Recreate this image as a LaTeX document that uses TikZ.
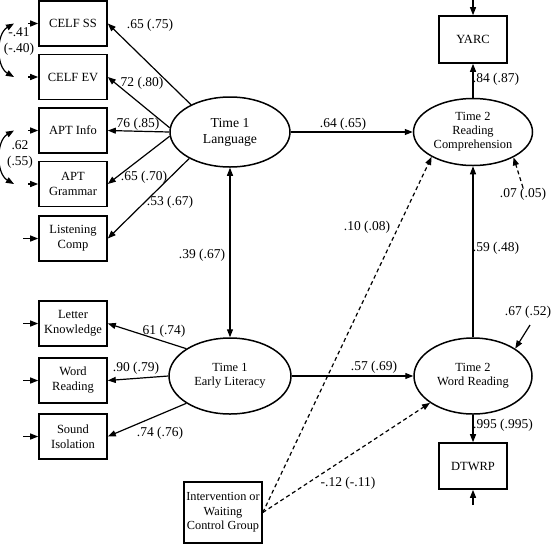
\documentclass[tikz,border=0pt]{standalone}
\usepackage{fontspec}
\setmainfont{Liberation Serif}
\usetikzlibrary{shapes.geometric,arrows.meta}

\begin{document}
\begin{tikzpicture}[x=1pt, y=-1pt, >={Triangle[length=8pt,width=6pt]},
  box/.style={draw, line width=1.6pt, minimum width=68pt, minimum height=45pt, inner sep=1pt, align=center, font=\fontsize{12.5}{15}\selectfont},
  latent/.style={draw, ellipse, line width=1.5pt, inner sep=0pt, align=center, font=\fontsize{12.4}{14}\selectfont},
  coef/.style={font=\fontsize{13.5}{16}\selectfont, inner sep=0pt},
  link/.style={line width=1.2pt, ->},
  dashlink/.style={link, dash pattern=on 4pt off 3pt}]
\useasboundingbox (0,0) rectangle (553,544);

\node[box] (celfss) at (73,23.5) {CELF SS};
\node[box] (celfev) at (73,77) {CELF EV};
\node[box] (aptinfo) at (73,130.5) {APT Info};
\node[box] (aptgram) at (73,184) {APT\\Grammar};
\node[box] (listen) at (73,238.5) {Listening\\Comp};

\node[box] (letter) at (73,323.5) {Letter\\Knowledge};
\node[box] (word) at (73,380.5) {Word\\Reading};
\node[box] (sound) at (73,436.5) {Sound\\Isolation};

\node[box, minimum width=78pt, minimum height=61pt, font=\fontsize{12.3}{14.5}\selectfont] (interv) at (223,512.5) {Intervention or\\Waiting\\Control Group};

\node[box, minimum height=47pt] (yarc) at (473,39.5) {YARC};
\node[box, minimum height=46pt] (dtwrp) at (473,466) {DTWRP};

\node[latent, minimum width=120pt, minimum height=70pt, font=\fontsize{13.7}{16}\selectfont] (lang) at (230,132) {Time 1\\Language};
\node[latent, minimum width=122pt, minimum height=76pt] (lit) at (230,376) {Time 1\\Early Literacy};
\node[latent, minimum width=119pt, minimum height=67pt] (rc) at (473,132) {Time 2\\Reading\\Comprehension};
\node[latent, minimum width=118pt, minimum height=76pt] (wr) at (473,376) {Time 2\\Word Reading};

\coordinate (e1) at (28,23.5);
\coordinate (e2) at (28,77);
\coordinate (e3) at (28,130.5);
\coordinate (e4) at (28,184);
\coordinate (e5) at (23,238.5);
\coordinate (e6) at (23,323.5);
\coordinate (e7) at (23,380.5);
\coordinate (e8) at (23,436.5);
\coordinate (eY) at (473,0);
\coordinate (eD) at (473,505);
\coordinate (eW) at (530,325);
\draw[link] (e1) -- (celfss);
\draw[link] (e2) -- (celfev);
\draw[link] (e3) -- (aptinfo);
\draw[link] (e4) -- (aptgram);
\draw[link] (e5) -- (listen);
\draw[link] (e6) -- (letter);
\draw[link] (e7) -- (word);
\draw[link] (e8) -- (sound);
\draw[link] (eY) -- (yarc);
\draw[link] (eD) -- (dtwrp);

\coordinate (c1) at (14,23.5);
\coordinate (c2) at (14,77);
\coordinate (c3) at (14,130.5);
\coordinate (c4) at (14,184);
\draw[link, <->] (c1) to[out=210, in=150] (c2);
\draw[link, <->] (c3) to[out=210, in=150] (c4);
\node[coef, align=center] (r1) at (19,41) {-.41\\(-.40)};
\node[coef, align=center] (r2) at (20,154) {.62\\(.55)};

\draw[link] (lang.145) -- (celfss.east);
\draw[link] (lang.176) -- (celfev.east);
\draw[link] (lang.west) -- (aptinfo.east);
\draw[link] (lang.184) -- (aptgram.east);
\draw[link] (lang.213) -- (listen.east);
\node[coef] (l1) at (150,25) {.65 (.75)};
\node[coef] (l2) at (142,83) {72 (.80)};
\node[coef] (l3) at (138,124) {76 (.85)};
\node[coef] (l4) at (144,177) {.65 (.70)};
\node[coef] (l5) at (170,202) {.53 (.67)};

\draw[link] (lit.148) -- (letter.east);
\draw[link] (lit.west) -- (word.east);
\draw[link] (lit.212) -- (sound.east);
\node[coef] (l6) at (164,331) {61 (.74)};
\node[coef] (l7) at (136,368) {.90 (.79)};
\node[coef] (l8) at (160,433) {.74 (.76)};

\draw[link, <->] (lang) -- (lit);
\node[coef] (l9) at (202,255) {.39 (.67)};

\draw[link] (lang) -- (rc);
\draw[link] (lit) -- (wr);
\draw[link] (rc) -- (yarc);
\draw[link] (wr) -- (rc);
\draw[link] (wr) -- (dtwrp);
\node[coef] (l10) at (343,124) {.64 (.65)};
\node[coef] (l11) at (374,367) {.57 (.69)};
\node[coef] (l12) at (496,79) {.84 (.87)};
\node[coef] (l13) at (496,248) {.59 (.48)};
\node[coef] (l14) at (503,425) {.995 (.995)};

\draw[dashlink] (interv.east) -- (rc.211);
\draw[dashlink] (interv.east) -- (wr.212);
\node[coef] (l15) at (367,227) {.10 (.08)};
\node[coef] (l16) at (348,483) {-.12 (-.11)};

\node[coef] (rcres) at (523,194) {.07 (.05)};
\draw[dashlink] (rcres.north) -- (rc.-32);
\node[coef] (wrres) at (528,312) {.67 (.52)};
\draw[link] (eW) -- (wr.33);

\end{tikzpicture}
\end{document}
